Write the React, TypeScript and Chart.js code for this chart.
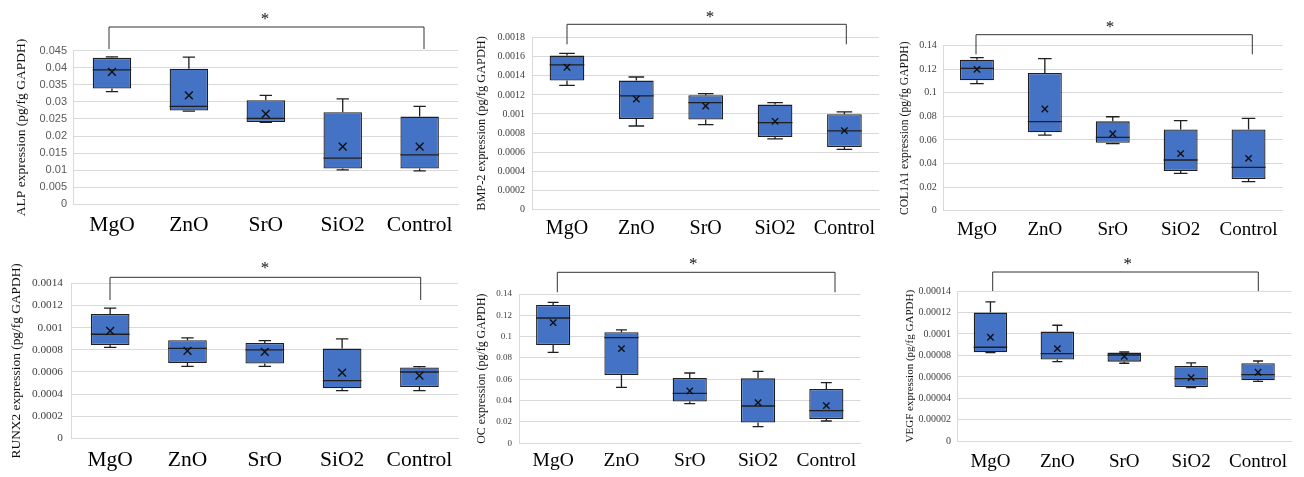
import React, { useEffect, useRef } from "react";
import { Chart, registerables } from "chart.js";
Chart.register(...registerables);

const CATEGORIES = ["MgO", "ZnO", "SrO", "SiO2", "Control"];

// ALP
const ALP_MIN = [0.033, 0.0273, 0.024, 0.0101, 0.0098];
const ALP_Q1 = [0.0339, 0.0275, 0.0241, 0.0105, 0.0105];
const ALP_MEDIAN = [0.0394, 0.0287, 0.0252, 0.0135, 0.0145];
const ALP_Q3 = [0.0429, 0.0397, 0.0305, 0.027, 0.0257];
const ALP_MAX = [0.0432, 0.0431, 0.0319, 0.0309, 0.0287];
const ALP_MEAN = [0.0388, 0.0319, 0.0265, 0.0169, 0.0169];
const ALP_TICKS = ["0", "0.005", "0.01", "0.015", "0.02", "0.025", "0.03", "0.035", "0.04", "0.045"];

// BMP-2
const BMP2_MIN = [0.0013, 0.000874, 0.000888, 0.000738, 0.000629];
const BMP2_Q1 = [0.00135, 0.000948, 0.000941, 0.000759, 0.000654];
const BMP2_MEDIAN = [0.001514, 0.001189, 0.001119, 0.000909, 0.000822];
const BMP2_Q3 = [0.001612, 0.00135, 0.001196, 0.001098, 0.000997];
const BMP2_MAX = [0.001636, 0.001388, 0.001213, 0.001119, 0.001021];
const BMP2_MEAN = [0.00149, 0.001157, 0.001084, 0.000923, 0.000825];
const BMP2_TICKS = ["0", "0.0002", "0.0004", "0.0006", "0.0008", "0.001", "0.0012", "0.0014", "0.0016", "0.0018"];

// COL1A1
const COL_MIN = [0.1078, 0.0642, 0.0569, 0.0317, 0.0246];
const COL_Q1 = [0.1106, 0.0665, 0.0577, 0.0337, 0.0269];
const COL_MEDIAN = [0.1208, 0.0755, 0.0622, 0.043, 0.0368];
const COL_Q3 = [0.1281, 0.1168, 0.0758, 0.069, 0.069];
const COL_MAX = [0.1298, 0.129, 0.0797, 0.0764, 0.0784];
const COL_MEAN = [0.1199, 0.0863, 0.0653, 0.0484, 0.0444];
const COL_TICKS = ["0", "0.02", "0.04", "0.06", "0.08", "0.1", "0.12", "0.14"];

// RUNX2
const RUNX_MIN = [0.000822, 0.00065, 0.00065, 0.000431, 0.000431];
const RUNX_Q1 = [0.000843, 0.000681, 0.000675, 0.000452, 0.000464];
const RUNX_MEDIAN = [0.00094, 0.000813, 0.000798, 0.000521, 0.000599];
const RUNX_Q3 = [0.001123, 0.000886, 0.000861, 0.00081, 0.000639];
const RUNX_MAX = [0.001175, 0.000907, 0.000883, 0.000898, 0.000648];
const RUNX_MEAN = [0.00097, 0.000789, 0.00078, 0.000593, 0.000566];
const RUNX_TICKS = ["0", "0.0002", "0.0004", "0.0006", "0.0008", "0.001", "0.0012", "0.0014"];

// OC
const OC_MIN = [0.0853, 0.0525, 0.0372, 0.0156, 0.0209];
const OC_Q1 = [0.0922, 0.0641, 0.0391, 0.0194, 0.0228];
const OC_MEDIAN = [0.1175, 0.0991, 0.0469, 0.035, 0.0306];
const OC_Q3 = [0.1297, 0.1041, 0.0613, 0.0609, 0.0509];
const OC_MAX = [0.1322, 0.1063, 0.0659, 0.0675, 0.0569];
const OC_MEAN = [0.1131, 0.0888, 0.0491, 0.0381, 0.0353];
const OC_TICKS = ["0", "0.02", "0.04", "0.06", "0.08", "0.1", "0.12", "0.14"];

// VEGF
const VEGF_MIN = [0.0000826, 0.0000742, 0.0000727, 0.00005, 0.0000559];
const VEGF_Q1 = [0.0000829, 0.0000761, 0.0000742, 0.0000506, 0.0000568];
const VEGF_MEDIAN = [0.0000876, 0.0000817, 0.0000804, 0.0000584, 0.0000621];
const VEGF_Q3 = [0.0001199, 0.0001022, 0.0000826, 0.0000702, 0.0000727];
const VEGF_MAX = [0.0001298, 0.0001081, 0.0000832, 0.000073, 0.0000748];
const VEGF_MEAN = [0.0000969, 0.0000863, 0.0000792, 0.0000593, 0.0000643];
const VEGF_TICKS = ["0", "0.00002", "0.00004", "0.00006", "0.00008", "0.0001", "0.00012", "0.00014"];

const SERIF = "'Liberation Serif', 'Times New Roman', Times, serif";
const SANS = "'Liberation Sans', Arial, Helvetica, sans-serif";
const BOX_FILL = "#4472C4";
const LINE = "#1f1f1f";
const GRID = "#D9D9D9";

type PanelCfg = {
  title: string;
  min: number[]; q1: number[]; median: number[]; q3: number[]; max: number[]; mean: number[];
  ticks: string[];
  canvas: { x: number; y: number; w: number; h: number };
  area: { left: number; top: number; right: number; bottom: number };
  tickFamily: string; tickSize: number; tickColor: string; tickPad: number;
  titleSize: number; titleX: number;
  catSize: number; catMidY: number;
  bracket: { x1: number; x2: number; top: number; bottom: number; starX: number; starY: number; starSize: number };
  capRatio: number; meanRadius: number;
};

const PANELS: PanelCfg[] = [
  {
    title: "ALP expression (pg/fg GAPDH)",
    min: ALP_MIN, q1: ALP_Q1, median: ALP_MEDIAN, q3: ALP_Q3, max: ALP_MAX, mean: ALP_MEAN, ticks: ALP_TICKS,
    canvas: { x: 0, y: 0, w: 465, h: 240 },
    area: { left: 73.5, top: 50.7, right: 459, bottom: 204.3 },
    tickFamily: SANS, tickSize: 11, tickColor: "#595959", tickPad: 6.5,
    titleSize: 13.5, titleX: 21, catSize: 21.5, catMidY: 225.8,
    bracket: { x1: 109, x2: 424, top: 27, bottom: 49, starX: 265, starY: 16, starSize: 17 },
    capRatio: 0.32, meanRadius: 5.5,
  },
  {
    title: "BMP-2 expression (pg/fg GAPDH)",
    min: BMP2_MIN, q1: BMP2_Q1, median: BMP2_MEDIAN, q3: BMP2_Q3, max: BMP2_MAX, mean: BMP2_MEAN, ticks: BMP2_TICKS,
    canvas: { x: 465, y: 0, w: 420, h: 240 },
    area: { left: 532.3, top: 37.7, right: 879.6, bottom: 209.3 },
    tickFamily: SERIF, tickSize: 10, tickColor: "#404040", tickPad: 7.3,
    titleSize: 12.3, titleX: 482, catSize: 20, catMidY: 228.7,
    bracket: { x1: 567, x2: 846.3, top: 24.3, bottom: 44.3, starX: 710, starY: 14, starSize: 17 },
    capRatio: 0.45, meanRadius: 4.5,
  },
  {
    title: "COL1A1 expression (pg/fg GAPDH)",
    min: COL_MIN, q1: COL_Q1, median: COL_MEDIAN, q3: COL_Q3, max: COL_MAX, mean: COL_MEAN, ticks: COL_TICKS,
    canvas: { x: 885, y: 0, w: 419, h: 240 },
    area: { left: 943, top: 45.7, right: 1282.5, bottom: 210.7 },
    tickFamily: SERIF, tickSize: 10, tickColor: "#404040", tickPad: 6.3,
    titleSize: 11.6, titleX: 905, catSize: 19, catMidY: 230,
    bracket: { x1: 976, x2: 1252.3, top: 34.7, bottom: 54.3, starX: 1110, starY: 24, starSize: 17 },
    capRatio: 0.4, meanRadius: 4.5,
  },
  {
    title: "RUNX2 expression (pg/fg GAPDH)",
    min: RUNX_MIN, q1: RUNX_Q1, median: RUNX_MEDIAN, q3: RUNX_Q3, max: RUNX_MAX, mean: RUNX_MEAN, ticks: RUNX_TICKS,
    canvas: { x: 0, y: 240, w: 465, h: 237 },
    area: { left: 71.5, top: 283.3, right: 459, bottom: 438.3 },
    tickFamily: SERIF, tickSize: 11.3, tickColor: "#404040", tickPad: 8.5,
    titleSize: 13.4, titleX: 16, catSize: 21.5, catMidY: 460.8,
    bracket: { x1: 110, x2: 420.7, top: 277.3, bottom: 300, starX: 265, starY: 265.3, starSize: 17 },
    capRatio: 0.32, meanRadius: 5.5,
  },
  {
    title: "OC expression (pg/fg GAPDH)",
    min: OC_MIN, q1: OC_Q1, median: OC_MEDIAN, q3: OC_Q3, max: OC_MAX, mean: OC_MEAN, ticks: OC_TICKS,
    canvas: { x: 465, y: 240, w: 420, h: 237 },
    area: { left: 519, top: 294, right: 860.5, bottom: 443.3 },
    tickFamily: SERIF, tickSize: 9, tickColor: "#404040", tickPad: 7,
    titleSize: 11.9, titleX: 481.7, catSize: 19.5, catMidY: 461,
    bracket: { x1: 557.3, x2: 835, top: 272.3, bottom: 292.3, starX: 693.3, starY: 261.7, starSize: 17 },
    capRatio: 0.32, meanRadius: 4.5,
  },
  {
    title: "VEGF expression (pg/fg GAPDH)",
    min: VEGF_MIN, q1: VEGF_Q1, median: VEGF_MEDIAN, q3: VEGF_Q3, max: VEGF_MAX, mean: VEGF_MEAN, ticks: VEGF_TICKS,
    canvas: { x: 885, y: 240, w: 419, h: 237 },
    area: { left: 957, top: 291, right: 1291.5, bottom: 441.3 },
    tickFamily: SERIF, tickSize: 10, tickColor: "#404040", tickPad: 6,
    titleSize: 11, titleX: 910, catSize: 19, catMidY: 461.8,
    bracket: { x1: 992.7, x2: 1258.3, top: 272, bottom: 291, starX: 1127.7, starY: 261, starSize: 17 },
    capRatio: 0.3, meanRadius: 4.5,
  },
];

function BoxPanel({ cfg }: { cfg: PanelCfg }) {
  const ref = useRef<HTMLCanvasElement>(null);
  useEffect(() => {
    const c = cfg;
    const canvas = ref.current;
    if (!canvas) return;
    const yWidth = c.area.left - c.canvas.x;
    const xHeight = c.canvas.y + c.canvas.h - c.area.bottom;
    const tickVals = c.ticks.map(Number);
    const ox = c.canvas.x;
    const oy = c.canvas.y;

    const plugin = {
      id: "boxExtras",
      beforeDatasetsDraw(chart: any) {
        const ctx = chart.ctx;
        const y = chart.scales.y;
        const meta = chart.getDatasetMeta(0);
        ctx.save();
        ctx.strokeStyle = LINE;
        ctx.lineWidth = 1.3;
        meta.data.forEach((el: any, i: number) => {
          const cx = el.x;
          const half = (el.width * c.capRatio) / 2;
          const yMax = y.getPixelForValue(c.max[i]);
          const yQ3 = y.getPixelForValue(c.q3[i]);
          const yQ1 = y.getPixelForValue(c.q1[i]);
          const yMin = y.getPixelForValue(c.min[i]);
          ctx.beginPath();
          ctx.moveTo(cx, yQ3); ctx.lineTo(cx, yMax);
          ctx.moveTo(cx - half, yMax); ctx.lineTo(cx + half, yMax);
          ctx.moveTo(cx, yQ1); ctx.lineTo(cx, yMin);
          ctx.moveTo(cx - half, yMin); ctx.lineTo(cx + half, yMin);
          ctx.stroke();
        });
        ctx.restore();
      },
      afterDatasetDraw(chart: any, args: any) {
        if (args.index !== 0) return;
        const ctx = chart.ctx;
        const y = chart.scales.y;
        const meta = chart.getDatasetMeta(0);
        ctx.save();
        ctx.strokeStyle = LINE;
        ctx.lineWidth = 1.3;
        meta.data.forEach((el: any, i: number) => {
          const ym = y.getPixelForValue(c.median[i]);
          ctx.beginPath();
          ctx.moveTo(el.x - el.width / 2, ym);
          ctx.lineTo(el.x + el.width / 2, ym);
          ctx.stroke();
        });
        ctx.restore();
      },
      afterDraw(chart: any) {
        const ctx = chart.ctx;
        const b = c.bracket;
        ctx.save();
        ctx.strokeStyle = "#333";
        ctx.lineWidth = 1;
        ctx.beginPath();
        ctx.moveTo(b.x1 - ox, b.bottom - oy);
        ctx.lineTo(b.x1 - ox, b.top - oy);
        ctx.lineTo(b.x2 - ox, b.top - oy);
        ctx.lineTo(b.x2 - ox, b.bottom - oy);
        ctx.stroke();
        ctx.fillStyle = "#111";
        ctx.font = `${b.starSize}px ${SERIF}`;
        ctx.textAlign = "center";
        ctx.textBaseline = "alphabetic";
        ctx.fillText("*", b.starX - ox, b.starY - oy + 0.45 * b.starSize);
        ctx.restore();
      },
    };

    const chart = new Chart(canvas, {
      type: "bar",
      data: {
        labels: CATEGORIES,
        datasets: [
          {
            type: "bar",
            data: CATEGORIES.map((_, i) => [c.q1[i], c.q3[i]]) as any,
            backgroundColor: BOX_FILL,
            borderColor: LINE,
            borderWidth: 1.3,
            borderSkipped: false,
            barPercentage: 0.5,
            categoryPercentage: 1,
            order: 2,
          },
          {
            type: "line",
            data: c.mean,
            showLine: false,
            pointStyle: "crossRot",
            pointRadius: c.meanRadius,
            pointBorderColor: "#111",
            pointBorderWidth: 1.4,
            pointBackgroundColor: "transparent",
            borderColor: "#111",
            order: 1,
          } as any,
        ],
      },
      plugins: [plugin as any],
      options: {
        responsive: false,
        animation: false,
        events: [],
        layout: {
          padding: {
            left: 0,
            top: c.area.top - c.canvas.y,
            right: c.canvas.x + c.canvas.w - c.area.right,
            bottom: 0,
          },
        },
        plugins: { legend: { display: false }, tooltip: { enabled: false } },
        scales: {
          x: {
            type: "category",
            offset: true,
            grid: { display: false, drawTicks: false },
            border: { display: true, color: GRID, width: 1 },
            ticks: {
              color: "#000",
              font: { family: SERIF, size: c.catSize },
              padding: c.catMidY - c.area.bottom - 0.6 * c.catSize,
              autoSkip: false,
              maxRotation: 0,
              minRotation: 0,
            },
            afterFit: (s: any) => { s.height = xHeight; },
          },
          y: {
            type: "linear",
            min: 0,
            max: tickVals[tickVals.length - 1],
            grid: { color: GRID, lineWidth: 1, drawTicks: false },
            border: { display: true, color: GRID, width: 1 },
            ticks: {
              color: c.tickColor,
              font: { family: c.tickFamily, size: c.tickSize },
              padding: c.tickPad,
              callback: (_v: any, i: number) => c.ticks[i],
            },
            afterBuildTicks: (s: any) => { s.ticks = tickVals.map((v) => ({ value: v })); },
            title: {
              display: true,
              text: c.title,
              color: "#111",
              font: { family: SERIF, size: c.titleSize },
              padding: { top: c.titleX - c.canvas.x - 0.6 * c.titleSize, bottom: 0 },
            },
            afterFit: (s: any) => { s.width = yWidth; },
          },
        },
      } as any,
    });
    return () => chart.destroy();
  }, [cfg]);
  return (
    <canvas
      ref={ref}
      width={cfg.canvas.w}
      height={cfg.canvas.h}
      style={{ position: "absolute", left: cfg.canvas.x, top: cfg.canvas.y, width: cfg.canvas.w, height: cfg.canvas.h }}
    />
  );
}

export default function App() {
  return (
    <div style={{ position: "absolute", left: 0, top: 0, width: 1304, height: 477, background: "#fff", overflow: "hidden" }}>
      {PANELS.map((p, i) => (
        <BoxPanel key={i} cfg={p} />
      ))}
    </div>
  );
}
